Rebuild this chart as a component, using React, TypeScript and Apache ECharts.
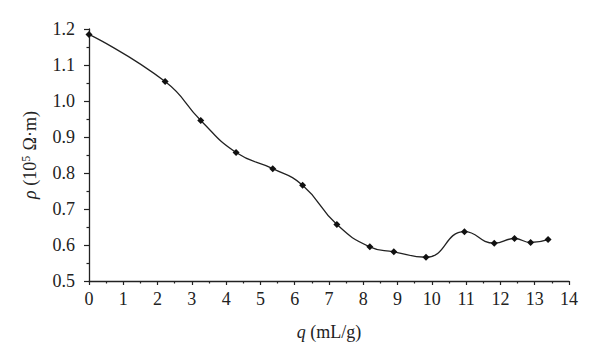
import React, { useEffect, useRef } from "react";
import * as echarts from "echarts";

const qValues = [0, 2.22, 3.26, 4.29, 5.36, 6.23, 7.23, 8.19, 8.89, 9.83, 10.95, 11.82, 12.41, 12.88, 13.39];
const rhoValues = [1.185, 1.054, 0.946, 0.857, 0.812, 0.766, 0.657, 0.595, 0.581, 0.566, 0.637, 0.605, 0.618, 0.607, 0.615];

const FONT = "'Liberation Serif', 'Times New Roman', serif";

export default function App() {
  const ref = useRef<HTMLDivElement>(null);
  useEffect(() => {
    if (!ref.current) return;
    const chart = echarts.init(ref.current, null, { renderer: "svg" });
    const data = qValues.map((q, i) => [q, rhoValues[i]]);
    chart.setOption({
      animation: false,
      backgroundColor: "#fff",
      grid: { left: 89, right: 31, top: 29, bottom: 82, containLabel: false },
      xAxis: {
        type: "value",
        min: 0,
        max: 14,
        interval: 1,
        name: "{i|q} (mL/g)",
        nameLocation: "middle",
        nameGap: 42,
        nameTextStyle: {
          fontFamily: FONT,
          fontSize: 18,
          color: "#222",
          rich: { i: { fontFamily: FONT, fontSize: 18, fontStyle: "italic", color: "#222" } },
        },
        axisLine: { lineStyle: { color: "#222", width: 1.3 } },
        axisTick: { show: true, length: 4, lineStyle: { color: "#222", width: 1.2 } },
        minorTick: { show: true, splitNumber: 2, length: 2.5, lineStyle: { color: "#222", width: 1.2 } },
        splitLine: { show: false },
        axisLabel: { fontFamily: FONT, fontSize: 18, color: "#222", margin: 9 },
      },
      yAxis: {
        type: "value",
        min: 0.5,
        max: 1.2,
        interval: 0.1,
        name: "{i|ρ} (10{s|5} Ω·m)",
        nameLocation: "middle",
        nameGap: 49,
        nameRotate: 90,
        nameTextStyle: {
          fontFamily: FONT,
          fontSize: 18,
          color: "#222",
          rich: {
            i: { fontFamily: FONT, fontSize: 18, fontStyle: "italic", color: "#222" },
            s: { fontFamily: FONT, fontSize: 12, color: "#222", verticalAlign: "top", padding: [0, 1, 8, 0] },
          },
        },
        axisLine: { show: true, lineStyle: { color: "#222", width: 1.3 } },
        axisTick: { show: true, length: 5, lineStyle: { color: "#222", width: 1.2 } },
        minorTick: { show: true, splitNumber: 2, length: 2.5, lineStyle: { color: "#222", width: 1.2 } },
        splitLine: { show: false },
        axisLabel: {
          fontFamily: FONT,
          fontSize: 18,
          color: "#222",
          margin: 14,
          formatter: (v: number) => v.toFixed(1),
        },
      },
      series: [
        {
          type: "line",
          data,
          smooth: 0.5,
          symbol: "diamond",
          symbolSize: 7,
          showSymbol: true,
          lineStyle: { color: "#222", width: 1.3 },
          itemStyle: { color: "#111" },
        },
      ],
    });
    return () => chart.dispose();
  }, []);
  return (
    <div
      ref={ref}
      style={{ position: "fixed", left: 0, top: 0, width: 600, height: 363, background: "#fff" }}
    />
  );
}
